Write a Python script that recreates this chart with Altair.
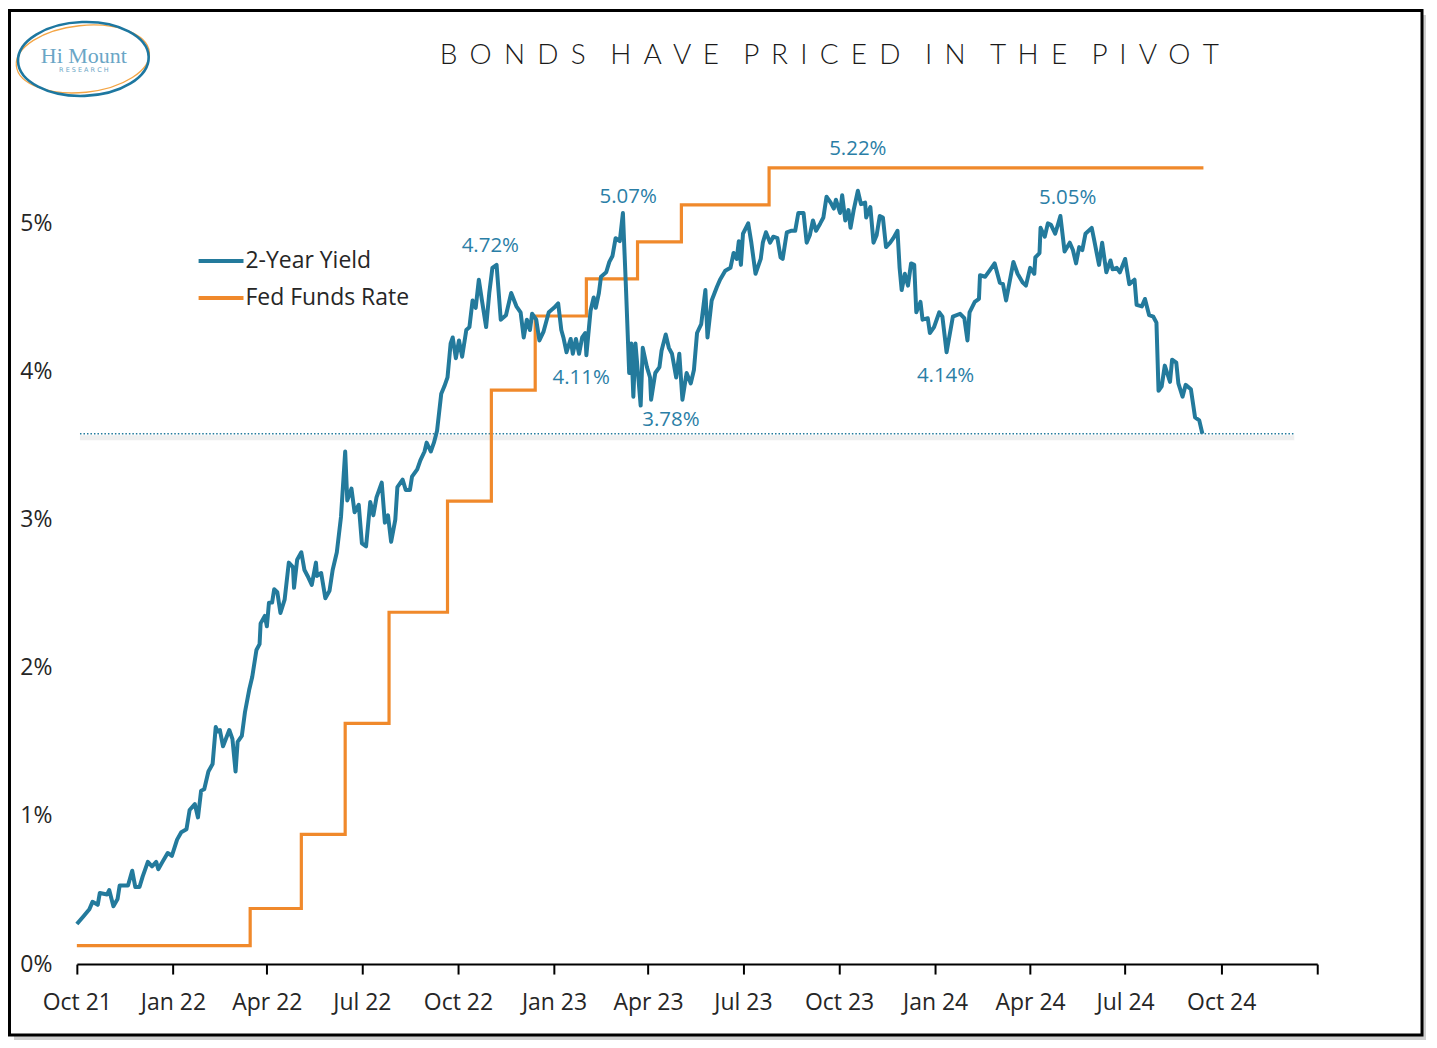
import altair as alt
import pandas as pd

# ---------------- data ----------------
yield_points = [
    ("2021-10-01", 0.27), ("2021-10-07", 0.32), ("2021-10-13", 0.37), ("2021-10-16", 0.42),
    ("2021-10-21", 0.40), ("2021-10-23", 0.48), ("2021-10-30", 0.47), ("2021-11-01", 0.50),
    ("2021-11-05", 0.39), ("2021-11-09", 0.44), ("2021-11-11", 0.53), ("2021-11-19", 0.53),
    ("2021-11-23", 0.63), ("2021-11-26", 0.52), ("2021-11-30", 0.52), ("2021-12-03", 0.59),
    ("2021-12-08", 0.69), ("2021-12-12", 0.66), ("2021-12-16", 0.69), ("2021-12-18", 0.64),
    ("2021-12-22", 0.69), ("2021-12-27", 0.75), ("2021-12-31", 0.73),
    ("2022-01-05", 0.84), ("2022-01-09", 0.89), ("2022-01-14", 0.91), ("2022-01-17", 1.04),
    ("2022-01-22", 1.08), ("2022-01-25", 0.99), ("2022-01-28", 1.17), ("2022-01-31", 1.18),
    ("2022-02-04", 1.30), ("2022-02-08", 1.35), ("2022-02-11", 1.60), ("2022-02-13", 1.57),
    ("2022-02-15", 1.58), ("2022-02-18", 1.47), ("2022-02-24", 1.58), ("2022-02-27", 1.52),
    ("2022-03-02", 1.30), ("2022-03-04", 1.50), ("2022-03-08", 1.54), ("2022-03-11", 1.70),
    ("2022-03-15", 1.85), ("2022-03-18", 1.94), ("2022-03-22", 2.12), ("2022-03-25", 2.16),
    ("2022-03-26", 2.30), ("2022-03-30", 2.35), ("2022-04-01", 2.28), ("2022-04-03", 2.44),
    ("2022-04-06", 2.44), ("2022-04-08", 2.53), ("2022-04-11", 2.51), ("2022-04-14", 2.37),
    ("2022-04-18", 2.46), ("2022-04-22", 2.71), ("2022-04-26", 2.68), ("2022-04-27", 2.54),
    ("2022-04-30", 2.73), ("2022-05-04", 2.78), ("2022-05-07", 2.66), ("2022-05-10", 2.62),
    ("2022-05-14", 2.56), ("2022-05-18", 2.71), ("2022-05-19", 2.62), ("2022-05-23", 2.64),
    ("2022-05-27", 2.47), ("2022-05-31", 2.52), ("2022-06-03", 2.66), ("2022-06-07", 2.78),
    ("2022-06-11", 3.02), ("2022-06-15", 3.46), ("2022-06-17", 3.13), ("2022-06-21", 3.21),
    ("2022-06-24", 3.05), ("2022-06-28", 3.10), ("2022-07-01", 2.84), ("2022-07-05", 2.82),
    ("2022-07-09", 3.12), ("2022-07-12", 3.03), ("2022-07-15", 3.15), ("2022-07-20", 3.25),
    ("2022-07-23", 2.98), ("2022-07-26", 3.03), ("2022-07-29", 2.85), ("2022-08-02", 3.00),
    ("2022-08-04", 3.22), ("2022-08-09", 3.27), ("2022-08-12", 3.20), ("2022-08-16", 3.20),
    ("2022-08-18", 3.29), ("2022-08-23", 3.34), ("2022-08-26", 3.40), ("2022-08-30", 3.46),
    ("2022-09-01", 3.52), ("2022-09-05", 3.46), ("2022-09-08", 3.52), ("2022-09-11", 3.60),
    ("2022-09-15", 3.85), ("2022-09-18", 3.90), ("2022-09-21", 3.96), ("2022-09-24", 4.19),
    ("2022-09-26", 4.23), ("2022-09-29", 4.09), ("2022-10-02", 4.21), ("2022-10-05", 4.10),
    ("2022-10-09", 4.28), ("2022-10-12", 4.30), ("2022-10-15", 4.48), ("2022-10-18", 4.43),
    ("2022-10-21", 4.62), ("2022-10-24", 4.48), ("2022-10-28", 4.30), ("2022-10-31", 4.53),
    ("2022-11-03", 4.70), ("2022-11-07", 4.72), ("2022-11-11", 4.35), ("2022-11-16", 4.38),
    ("2022-11-21", 4.53), ("2022-11-26", 4.44), ("2022-11-30", 4.40), ("2022-12-03", 4.23),
    ("2022-12-06", 4.35), ("2022-12-09", 4.28), ("2022-12-11", 4.39), ("2022-12-15", 4.35),
    ("2022-12-18", 4.21), ("2022-12-22", 4.27), ("2022-12-27", 4.40),
    ("2023-01-01", 4.43), ("2023-01-05", 4.46), ("2023-01-08", 4.28), ("2023-01-10", 4.23),
    ("2023-01-13", 4.13), ("2023-01-17", 4.22), ("2023-01-19", 4.12), ("2023-01-22", 4.22),
    ("2023-01-25", 4.12), ("2023-01-28", 4.23), ("2023-01-31", 4.26), ("2023-02-01", 4.11),
    ("2023-02-05", 4.41), ("2023-02-08", 4.50), ("2023-02-10", 4.43), ("2023-02-13", 4.53),
    ("2023-02-15", 4.64), ("2023-02-20", 4.67), ("2023-02-23", 4.74), ("2023-02-26", 4.78),
    ("2023-03-01", 4.90), ("2023-03-05", 4.88), ("2023-03-08", 5.07), ("2023-03-11", 4.55),
    ("2023-03-14", 3.99), ("2023-03-16", 4.19), ("2023-03-18", 3.83), ("2023-03-20", 4.19),
    ("2023-03-23", 3.94), ("2023-03-25", 3.77), ("2023-03-27", 4.16), ("2023-03-31", 4.03),
    ("2023-04-03", 3.96), ("2023-04-04", 3.81), ("2023-04-08", 3.99), ("2023-04-12", 4.03),
    ("2023-04-14", 4.14), ("2023-04-18", 4.25), ("2023-04-21", 4.16), ("2023-04-24", 4.12),
    ("2023-04-28", 3.96), ("2023-05-01", 4.12), ("2023-05-04", 3.81), ("2023-05-08", 3.99),
    ("2023-05-12", 3.92), ("2023-05-15", 4.01), ("2023-05-18", 4.26), ("2023-05-22", 4.32),
    ("2023-05-26", 4.55), ("2023-05-28", 4.23), ("2023-06-01", 4.48), ("2023-06-06", 4.57),
    ("2023-06-09", 4.62), ("2023-06-14", 4.68), ("2023-06-19", 4.70), ("2023-06-22", 4.80),
    ("2023-06-25", 4.76), ("2023-06-27", 4.88), ("2023-06-29", 4.72), ("2023-07-01", 4.93),
    ("2023-07-06", 5.00), ("2023-07-09", 4.87), ("2023-07-13", 4.66), ("2023-07-18", 4.76),
    ("2023-07-20", 4.87), ("2023-07-23", 4.94), ("2023-07-27", 4.87), ("2023-07-30", 4.91),
    ("2023-08-03", 4.90), ("2023-08-06", 4.77), ("2023-08-08", 4.76), ("2023-08-12", 4.94),
    ("2023-08-16", 4.95), ("2023-08-20", 4.95), ("2023-08-23", 5.07), ("2023-08-28", 5.07),
    ("2023-08-31", 4.87), ("2023-09-03", 4.92), ("2023-09-06", 5.02), ("2023-09-09", 4.95),
    ("2023-09-13", 5.00), ("2023-09-16", 5.04), ("2023-09-19", 5.18), ("2023-09-23", 5.14),
    ("2023-09-26", 5.10), ("2023-09-28", 5.16), ("2023-10-02", 5.07), ("2023-10-04", 5.19),
    ("2023-10-07", 5.02), ("2023-10-10", 5.09), ("2023-10-12", 4.97), ("2023-10-15", 5.09),
    ("2023-10-19", 5.22), ("2023-10-22", 5.13), ("2023-10-26", 5.14), ("2023-10-27", 5.04),
    ("2023-10-31", 5.11), ("2023-11-03", 4.87), ("2023-11-06", 4.92), ("2023-11-09", 5.05),
    ("2023-11-12", 5.04), ("2023-11-15", 4.84), ("2023-11-19", 4.87), ("2023-11-22", 4.90),
    ("2023-11-26", 4.95), ("2023-11-28", 4.70), ("2023-11-30", 4.55), ("2023-12-03", 4.66),
    ("2023-12-06", 4.58), ("2023-12-09", 4.73), ("2023-12-12", 4.72), ("2023-12-14", 4.40),
    ("2023-12-18", 4.47), ("2023-12-20", 4.35), ("2023-12-25", 4.36), ("2023-12-27", 4.26),
    ("2023-12-31", 4.30),
    ("2024-01-05", 4.40), ("2024-01-08", 4.37), ("2024-01-12", 4.13), ("2024-01-18", 4.37),
    ("2024-01-25", 4.39), ("2024-01-29", 4.36), ("2024-02-01", 4.21), ("2024-02-03", 4.40),
    ("2024-02-08", 4.47), ("2024-02-12", 4.49), ("2024-02-13", 4.65), ("2024-02-18", 4.64),
    ("2024-02-22", 4.68), ("2024-02-27", 4.73), ("2024-03-03", 4.60), ("2024-03-06", 4.59),
    ("2024-03-09", 4.48), ("2024-03-16", 4.74), ("2024-03-20", 4.66), ("2024-03-25", 4.60),
    ("2024-03-28", 4.58), ("2024-04-01", 4.70), ("2024-04-05", 4.66), ("2024-04-06", 4.77),
    ("2024-04-10", 4.80), ("2024-04-11", 4.97), ("2024-04-15", 4.91), ("2024-04-18", 5.00),
    ("2024-04-21", 4.99), ("2024-04-25", 4.93), ("2024-04-28", 5.00), ("2024-04-30", 5.05),
    ("2024-05-04", 4.81), ("2024-05-09", 4.87), ("2024-05-12", 4.82), ("2024-05-15", 4.73),
    ("2024-05-18", 4.84), ("2024-05-21", 4.82), ("2024-05-24", 4.93), ("2024-05-30", 4.97),
    ("2024-06-01", 4.90), ("2024-06-06", 4.72), ("2024-06-09", 4.87), ("2024-06-13", 4.67),
    ("2024-06-17", 4.75), ("2024-06-19", 4.69), ("2024-06-23", 4.70), ("2024-06-26", 4.67),
    ("2024-07-01", 4.76), ("2024-07-05", 4.59), ("2024-07-10", 4.62), ("2024-07-12", 4.45),
    ("2024-07-17", 4.44), ("2024-07-20", 4.49), ("2024-07-24", 4.38), ("2024-07-28", 4.37),
    ("2024-07-31", 4.33), ("2024-08-02", 3.87), ("2024-08-05", 3.90), ("2024-08-08", 4.04),
    ("2024-08-13", 3.93), ("2024-08-15", 4.08), ("2024-08-19", 4.06), ("2024-08-21", 3.92),
    ("2024-08-25", 3.83), ("2024-08-28", 3.91), ("2024-09-02", 3.88), ("2024-09-06", 3.69),
    ("2024-09-10", 3.67), ("2024-09-13", 3.58),
]

fed_dates = ["2021-10-01", "2022-03-16", "2022-05-04", "2022-06-15", "2022-07-27",
             "2022-09-21", "2022-11-02", "2022-12-14", "2023-02-01", "2023-03-22",
             "2023-05-03", "2023-07-26", "2024-09-14"]
fed_values = [0.125, 0.375, 0.875, 1.625, 2.375, 3.125, 3.875, 4.375, 4.625, 4.875,
              5.125, 5.375, 5.375]

last_yield = 3.58
ref_line_dates = ["2021-10-04", "2024-12-10"]

annot_dates = ["2022-11-01", "2023-03-13", "2023-01-27", "2023-04-23",
               "2023-10-19", "2024-01-11", "2024-05-07"]
annot_values = [4.85, 5.175, 3.955, 3.67, 5.50, 3.97, 5.17]
annot_labels = ["4.72%", "5.07%", "4.11%", "3.78%", "5.22%", "4.14%", "5.05%"]

series_names = ["2-Year Yield", "Fed Funds Rate"]
x_tick_years_months = [(2021, 10), (2022, 1), (2022, 4), (2022, 7), (2022, 10),
                       (2023, 1), (2023, 4), (2023, 7), (2023, 10), (2024, 1),
                       (2024, 4), (2024, 7), (2024, 10), (2025, 1)]
y_ticks = [0, 1, 2, 3, 4, 5]

title_words = ["BONDS", "HAVE", "PRICED", "IN", "THE", "PIVOT"]

# ---------------- styling ----------------
TEAL = "#237a9c"
ORANGE = "#f0892b"
LABEL_TEAL = "#2a7ea6"
TXT = "#262626"
FONT = "Open Sans"

W, H = 1243, 861

yld = pd.DataFrame(yield_points, columns=["date", "value"])
yld["series"] = series_names[0]
fed = pd.DataFrame({"date": fed_dates, "value": fed_values, "series": series_names[1]})
ref = pd.DataFrame({"date": [ref_line_dates[0]], "date2": [ref_line_dates[1]], "value": [last_yield]})
ann = pd.DataFrame({"date": annot_dates, "value": annot_values, "label": annot_labels})

x_scale = alt.Scale(domain=[alt.DateTime(year=2021, month=10, date=1, utc=True),
                            alt.DateTime(year=2025, month=1, date=1, utc=True)])
y_scale = alt.Scale(domain=[0, 5.8], nice=False, zero=False)

x_axis = alt.Axis(
    values=[alt.DateTime(year=y, month=m, date=1, utc=True) for y, m in x_tick_years_months],
    labelExpr="utcyear(datum.value) > 2024 ? '' : utcFormat(datum.value, '%b %y')",
    title=None, grid=False, domainColor="black", domainWidth=2,
    tickColor="black", tickWidth=2, tickSize=10, labelPadding=18,
    labelFlush=False, labelOverlap=False, zindex=2,
)
y_axis = alt.Axis(values=y_ticks, labelExpr="datum.value + '%'", title=None, grid=False,
                  ticks=False, domain=False, labelPadding=25, zindex=2)

X = alt.X("date:T", scale=x_scale, axis=x_axis)
Y = alt.Y("value:Q", scale=y_scale, axis=y_axis)

color = alt.Color(
    "series:N",
    scale=alt.Scale(domain=series_names, range=[TEAL, ORANGE]),
    legend=alt.Legend(title=None, orient="none", legendX=120, legendY=132,
                      symbolType="stroke", symbolSize=2025, symbolStrokeWidth=4,
                      labelFontSize=23, labelFont=FONT, labelColor=TXT, labelLimit=0,
                      rowPadding=-7, labelOffset=0, padding=0),
)

one = pd.DataFrame({"k": [0]})

# frame and shadow (page margin is 8px, so the frame sits just inside the canvas)
shadow = alt.Chart(one).mark_rect(fill="#cfcfcf").encode(
    x=alt.value(-63), x2=alt.value(1352), y=alt.value(-90), y2=alt.value(937))
frame = alt.Chart(one).mark_rect(fill="white", stroke="black", strokeWidth=3).encode(
    x=alt.value(-67.5), x2=alt.value(1348), y=alt.value(-94.5), y2=alt.value(932))

# logo
ellipse_path = ("M -1 0 C -1 -0.31 -0.552 -0.565 0 -0.565 C 0.552 -0.565 1 -0.31 1 0 "
                "C 1 0.31 0.552 0.565 0 0.565 C -0.552 0.565 -1 0.31 -1 0 Z")
ellipse_path2 = ("M -1 0 C -1 -0.276 -0.552 -0.5 0 -0.5 C 0.552 -0.5 1 -0.276 1 0 "
                 "C 1 0.276 0.552 0.5 0 0.5 C -0.552 0.5 -1 0.276 -1 0 Z")
logo_orange = alt.Chart(one).mark_point(shape=ellipse_path2, size=134 * 134, stroke="#f4a545",
                                        strokeWidth=1.3, filled=False, angle=354, opacity=1).encode(
    x=alt.value(6), y=alt.value(-46))
logo_blue = alt.Chart(one).mark_point(shape=ellipse_path, size=131 * 131, stroke="#1d77a0",
                                      strokeWidth=2.6, filled=False, angle=358, opacity=1).encode(
    x=alt.value(6.5), y=alt.value(-46))
logo_text = alt.Chart(one).mark_text(text="Hi Mount", font="Liberation Serif", fontSize=22,
                                     color="#6aa6c6", baseline="alphabetic", align="center").encode(
    x=alt.value(7), y=alt.value(-42))
logo_sub = alt.Chart(one).mark_text(text="R E S E A R C H", font="DejaVu Sans", fontSize=6.5,
                                    color="#6aa6c6", baseline="alphabetic", align="center").encode(
    x=alt.value(7), y=alt.value(-32.5))

# title (letter-spaced with non-collapsing spaces)
NB = "\u00a0"
SIX = "\u2006"
title_text = (NB * 2 + SIX * 2).join((NB + SIX).join(w) for w in title_words)
title = alt.Chart(one).mark_text(text=title_text, font="Lato", fontWeight=300, fontSize=28,
                                 color="#1a1a1a", baseline="alphabetic", align="center").encode(
    x=alt.value(831 - 77), y=alt.value(63 - 104))

# reference dotted line
ref_shadow = alt.Chart(ref).mark_rule(color="#dcdcdc", strokeWidth=5, opacity=0.45, yOffset=4).encode(
    x=X, x2="date2:T", y=Y)
ref_line = alt.Chart(ref).mark_rule(color=TEAL, strokeWidth=1.5, strokeDash=[1.5, 2]).encode(
    x=X, x2="date2:T", y=Y)

fed_line = alt.Chart(fed).mark_line(interpolate="step-after", strokeWidth=3.2).encode(
    x=X, y=Y, color=color)
yld_line = alt.Chart(yld).mark_line(strokeWidth=4, strokeJoin="round").encode(
    x=X, y=Y, color=color)

labels = alt.Chart(ann).mark_text(font=FONT, fontSize=20.5, color=LABEL_TEAL).encode(
    x=X, y=Y, text="label:N")

chart = alt.layer(
    shadow, frame, logo_orange, logo_blue, logo_text, logo_sub, title,
    ref_shadow, ref_line, fed_line, yld_line, labels,
).properties(
    width=W, height=H,
    padding={"left": 69, "top": 96, "right": 112, "bottom": 78},
    autosize=alt.AutoSizeParams(type="none"),
    background="white",
).configure_view(stroke=None).configure_axis(
    labelFont=FONT, labelFontSize=23, labelColor=TXT,
)

chart.save("out.html", embed_options={"renderer": "svg", "actions": False})
